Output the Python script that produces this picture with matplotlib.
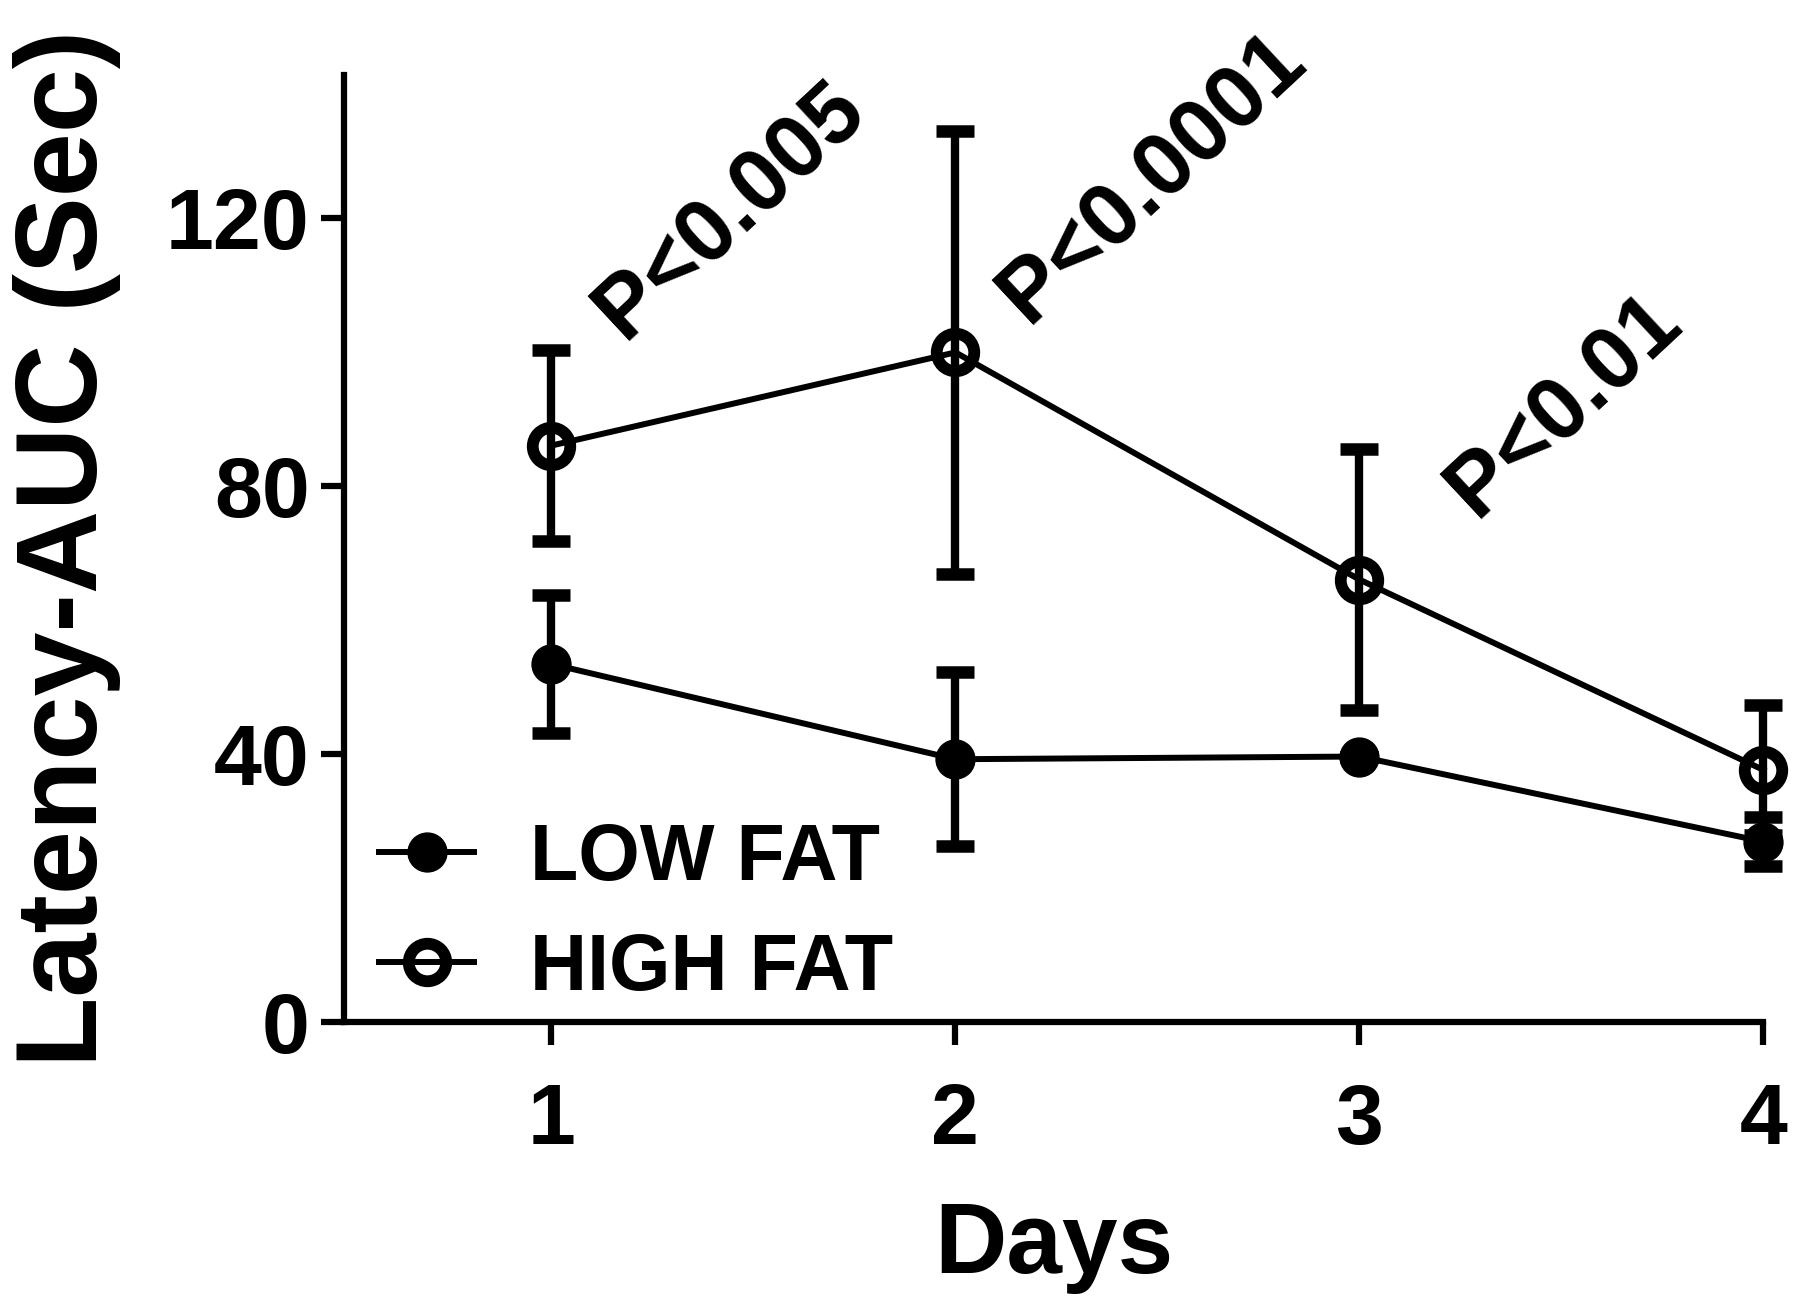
import numpy as np
import matplotlib
matplotlib.use('Agg')
import matplotlib.pyplot as plt

# data
days = [1, 2, 3, 4]
low_fat = [53.4, 39.2, 39.6, 26.9]
low_fat_sem = [10.3, 13.0, 0.0, 3.7]
high_fat = [86.0, 99.9, 66.0, 37.6]
high_fat_sem = [14.2, 33.0, 19.5, 9.7]
p_labels = ['P<0.005', 'P<0.0001', 'P<0.01']
p_pos = [(1.18, 101.6), (2.18, 104.0), (3.29, 75.0)]
yticks = [0, 40, 80, 120]

plt.rcParams['font.family'] = ['Liberation Sans', 'DejaVu Sans']
plt.rcParams['font.weight'] = 'bold'

fig = plt.figure(figsize=(18, 13.08), dpi=100)
ax = fig.add_axes([0.191, 0.2187, 0.9797 - 0.191, 0.9427 - 0.2187])

# error bars
ax.errorbar(days, high_fat, yerr=high_fat_sem, fmt='none', ecolor='black',
            elinewidth=6, capsize=14, capthick=9, clip_on=False, zorder=2)
ax.errorbar(days, low_fat, yerr=low_fat_sem, fmt='none', ecolor='black',
            elinewidth=6, capsize=14, capthick=9, clip_on=False, zorder=2)

# lines + markers
ax.plot(days, low_fat, color='black', linewidth=4.3, marker='o', markersize=28,
        markerfacecolor='black', markeredgecolor='black', markeredgewidth=1,
        label='LOW FAT', clip_on=False, zorder=4)
ax.plot(days, high_fat, color='black', linewidth=4.3, marker='o', markersize=27,
        markerfacecolor='none', markeredgecolor='black', markeredgewidth=8.5,
        label='HIGH FAT', clip_on=False, zorder=3)

for lab, (x, y) in zip(p_labels, p_pos):
    ax.text(x, y, lab, rotation=43, rotation_mode='anchor', ha='left',
            va='baseline', fontsize=64, fontweight='bold')

ax.set_xlim(0.486, 4.0)
ax.set_ylim(0, 141.3)
ax.set_xticks(days)
ax.set_yticks(yticks)

for s in ['top', 'right']:
    ax.spines[s].set_visible(False)
for s in ['left', 'bottom']:
    ax.spines[s].set_linewidth(4.5)

ax.tick_params(axis='both', direction='out', length=16.5, width=4.5, labelsize=62)
ax.tick_params(axis='y', pad=8)
ax.tick_params(axis='x', pad=27)

ax.set_xlabel('Days', fontsize=72, fontweight='bold')
ax.set_ylabel('Latency-AUC (Sec)', fontsize=83, fontweight='bold')
ax.xaxis.set_label_coords(0.5, -0.188)
ax.yaxis.set_label_coords(-0.157, 0.5)

ax.legend(loc='upper left', bbox_to_anchor=(0.025, 0.211), frameon=False,
          fontsize=57, handlelength=1.2, handletextpad=0.7,
          labelspacing=0.44, borderpad=0, borderaxespad=0)

plt.savefig('out.png', dpi=100)
